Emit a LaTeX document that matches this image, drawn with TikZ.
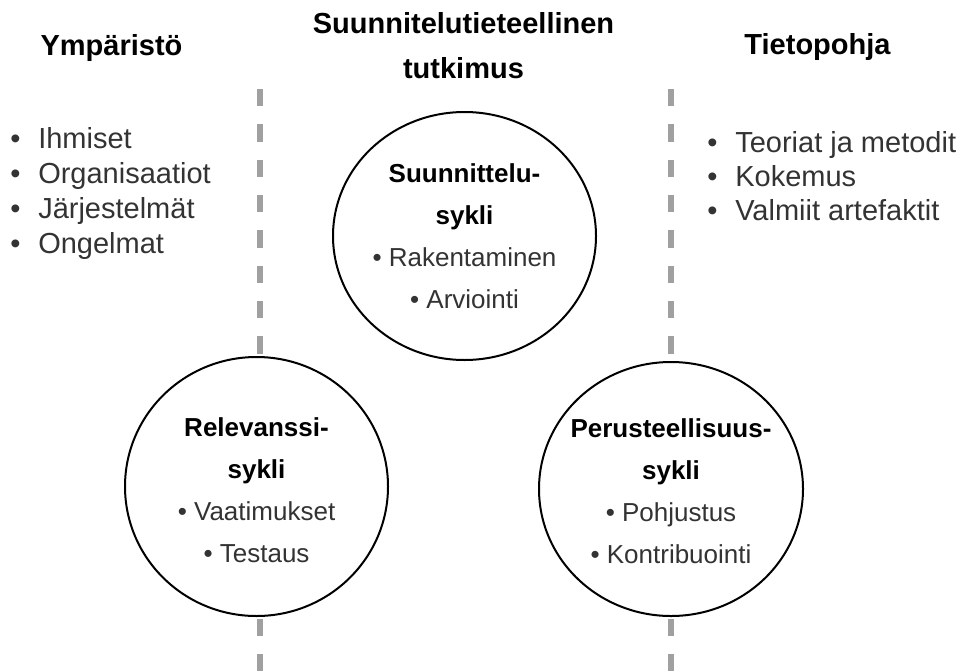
\documentclass[tikz,border=0pt]{standalone}
\usepackage{fontspec}
\setmainfont{Liberation Sans}
\usetikzlibrary{positioning,shapes.geometric}
\definecolor{sepgray}{RGB}{160,160,160}
\definecolor{txtgray}{RGB}{51,51,51}

\begin{document}
\begin{tikzpicture}[
    x=0.75pt, y=-0.75pt,
    cyc/.style={
        ellipse,
        draw,
        line width=1.5pt,
        fill=white,
        inner sep=0pt,
        },
    cyctext/.style={
        align=center,
        inner sep=0pt,
        text=txtgray,
        font=\fontsize{19.5}{31.5}\selectfont,
        },
    head/.style={
        align=center,
        inner sep=0pt,
        anchor=base,
        font=\fontsize{21.75}{33.75}\selectfont\bfseries,
        },
    items/.style={
        align=left,
        inner sep=0pt,
        anchor=base west,
        text=txtgray,
        },
    sep/.style={
        sepgray,
        line width=4.1pt,
        dash pattern=on 13.1pt off 13.4pt,
        },
]
\useasboundingbox (0,0) rectangle (963,671);

% separators
\coordinate (ltop) at (260,89);
\coordinate (lbot) at (260,671);
\coordinate (rtop) at (671,89);
\coordinate (rbot) at (671,671);
\draw[sep] (ltop) -- (lbot);
\draw[sep] (rtop) -- (rbot);

% headings (base = last line)
\node[head] (env) at (111.5,55) {Ympäristö};
\node[head] (dsr) at (463.5,78) {Suunnitelutieteellinen\\tutkimus};
\node[head] (kb) at (817.5,54) {Tietopohja};

\node[items, font=\fontsize{21.75}{26.25}\selectfont] (envlist) at (10,253)
    {•\hspace{13.4pt}Ihmiset\\
     •\hspace{13.4pt}Organisaatiot\\
     •\hspace{13.4pt}Järjestelmät\\
     •\hspace{13.4pt}Ongelmat};
\node[items, font=\fontsize{21.75}{25.5}\selectfont] (kblist) at (707,220)
    {•\hspace{13.4pt}Teoriat ja metodit\\
     •\hspace{13.4pt}Kokemus\\
     •\hspace{13.4pt}Valmiit artefaktit};

% cycles
\node[cyc, minimum width=197.25pt, minimum height=186pt] (design) at (464.5,236) {};
\node[cyc, minimum width=197.25pt, minimum height=194.25pt] (relev) at (256.5,486.5) {};
\node[cyc, minimum width=198pt, minimum height=190.5pt] (rigor) at (671,489) {};

\node[cyctext] (designtxt) at (design)
    {\textcolor{black}{\bfseries Suunnittelu-}\\\textcolor{black}{\bfseries sykli}\\• Rakentaminen\\• Arviointi};
\node[cyctext, yshift=-2.5pt] (relevtxt) at (relev)
    {\textcolor{black}{\bfseries Relevanssi-}\\\textcolor{black}{\bfseries sykli}\\• Vaatimukset\\• Testaus};
\node[cyctext, yshift=-1.5pt] (rigortxt) at (rigor)
    {\textcolor{black}{\bfseries Perusteellisuus-}\\\textcolor{black}{\bfseries sykli}\\• Pohjustus\\• Kontribuointi};

\end{tikzpicture}
\end{document}
